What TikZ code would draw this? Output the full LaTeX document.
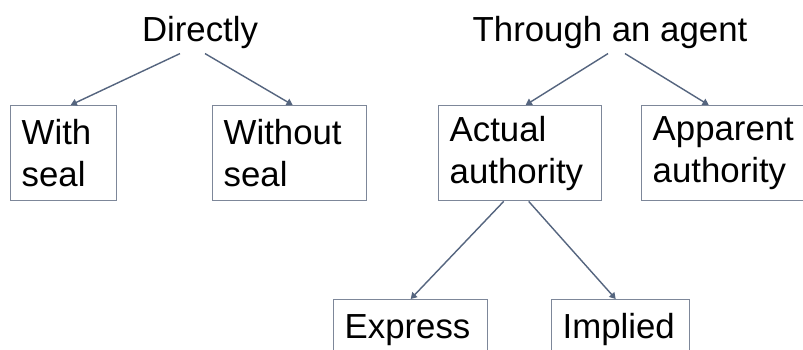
\documentclass[tikz,border=0pt]{standalone}
\usepackage{fontspec}
\setmainfont{Liberation Sans}
\usetikzlibrary{positioning, arrows.meta}
\definecolor{boxGray}{RGB}{125, 135, 153}
\definecolor{arrSlate}{RGB}{85, 101, 127}

\begin{document}
\begin{tikzpicture}[
    x=0.02cm, y=-0.02cm,
    font=\fontsize{19.8}{23.8}\selectfont,
    leaf/.style={rectangle, draw=boxGray, line width=0.8pt, anchor=north west, align=left,
                 minimum height=1.9cm, inner xsep=0.22cm, inner ysep=0pt},
    head/.style={anchor=base, inner sep=0.1cm},
    arr/.style={-{Triangle[length=3.5pt, width=4pt]}, line width=0.8pt, arrSlate}
]
\clip (0,0) rectangle (803,349);
\fill[white] (0,0) rectangle (803,349);

\node[head] (direct) at (200,41) {Directly};
\node[head] (agent)  at (610,41) {Through an agent};

\node[leaf, text width=1.68cm] (withseal)  at (10,105)  {With\\seal};
\node[leaf, text width=2.64cm] (noseal)    at (212,105) {Without\\seal};
\node[leaf, text width=2.82cm] (actual)    at (438,105) {Actual\\authority};
\node[leaf, text width=2.96cm] (apparent)  at (641,105) {Apparent\\authority};
% one-line boxes keep the two-line layout, bottom is cut off
\node[leaf, text width=2.64cm] (express)   at (333,299) {Express\\\mbox{}};
\node[leaf, text width=2.32cm] (implied)   at (551,299) {Implied\\\mbox{}};

\draw[arr] ([xshift=-0.4cm]direct.south) -- ([xshift=0.14cm]withseal.north);
\draw[arr] ([xshift=0.1cm]direct.south) -- ([xshift=0.06cm]noseal.north);
\draw[arr] ([xshift=-0.04cm]agent.south) -- ([xshift=0.11cm]actual.north);
\draw[arr] ([xshift=0.3cm]agent.south) -- ([xshift=-0.36cm]apparent.north);
\draw[arr] ([xshift=-0.33cm]actual.south) -- (express.north);
\draw[arr] ([xshift=0.17cm]actual.south) -- ([xshift=-0.1cm]implied.north);
\end{tikzpicture}
\end{document}
